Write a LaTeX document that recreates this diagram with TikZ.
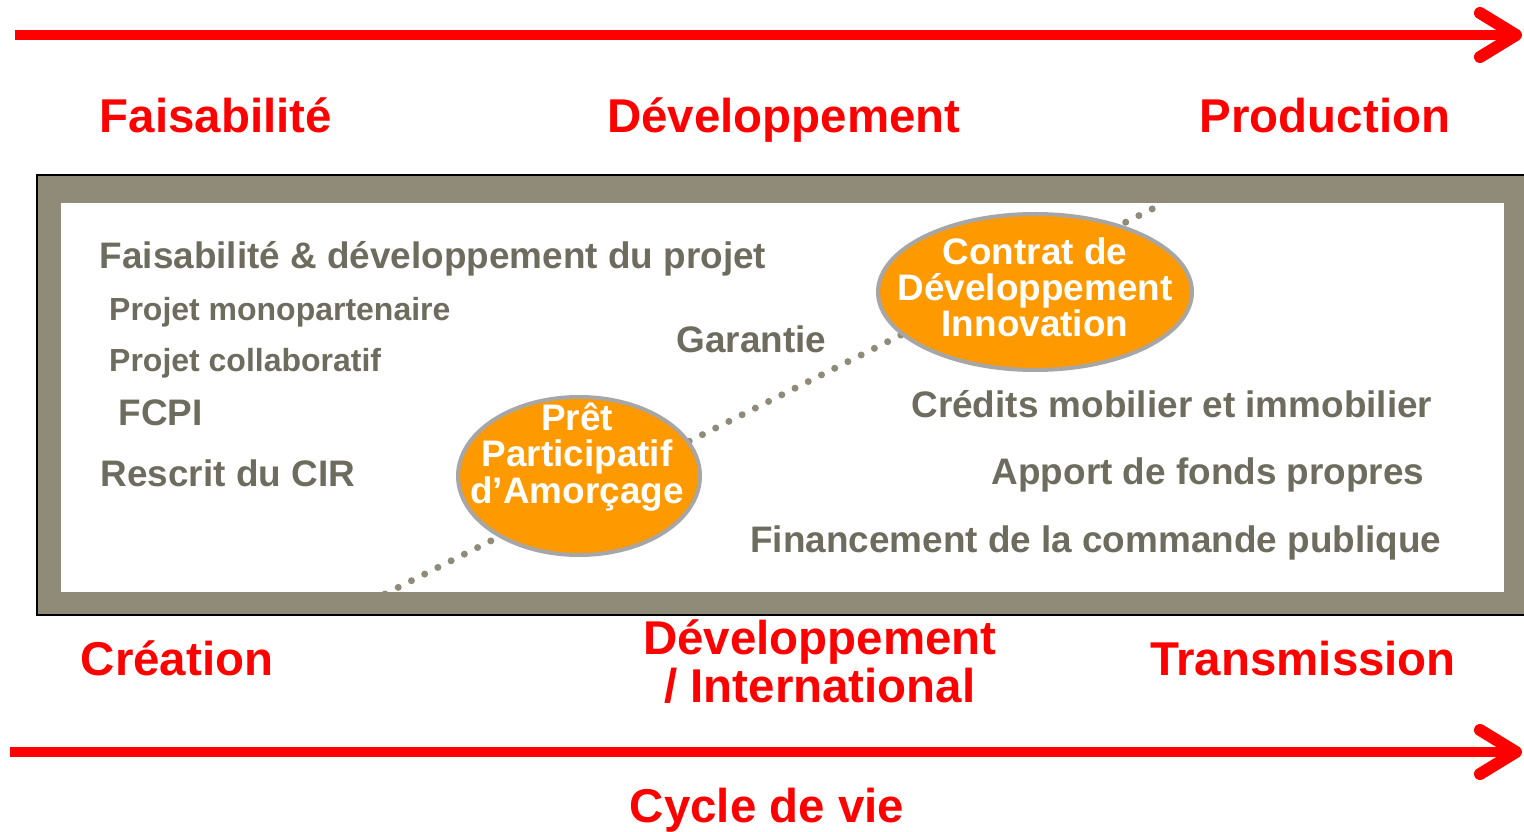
\documentclass[tikz,border=0pt]{standalone}
\usepackage{fontspec}
\setmainfont{Liberation Sans}
\usepackage{tikz}
\usetikzlibrary{arrows.meta,shapes.geometric}
\definecolor{cadre}{RGB}{143,139,120}
\definecolor{gristexte}{RGB}{110,108,94}
\definecolor{orangebulle}{RGB}{255,153,0}
\definecolor{bordbulle}{RGB}{166,166,166}

\begin{document}
\begin{tikzpicture}[
    phase/.style={red, font=\fontsize{13.5}{13.4}\selectfont\bfseries, inner sep=0pt, anchor=base, align=center},
    item/.style={gristexte, font=\fontsize{10.5}{10.5}\selectfont\bfseries, inner sep=0pt},
    smallitem/.style={gristexte, font=\fontsize{9.1}{9.1}\selectfont\bfseries, inner sep=0pt},
    bubble/.style={ellipse, draw=bordbulle, line width=0.04cm, fill=orangebulle, inner sep=0pt},
    bubbletext/.style={white, font=\fontsize{10.5}{10.3}\selectfont\bfseries, inner sep=0pt, anchor=base, align=center},
    timeline/.style={red, line width=0.10cm, -{Straight Barb[length=0.36cm, width=0.44cm, line width=0.12cm, round]}}]
      \useasboundingbox (0,0) rectangle (15.24,8.31);
      \coordinate (t1) at (0.15,7.96);
      \coordinate (t2) at (15.22,7.96);
      \coordinate (b1) at (0.10,0.79);
      \coordinate (b2) at (15.22,0.79);
      \draw[timeline] (t1) -- (t2);
      \draw[timeline] (b1) -- (b2);
      \node (fais) at (2.16,6.98) [phase] {Faisabilité};
      \node (dev) at (7.84,6.98) [phase] {Développement};
      \node (prod) at (13.25,6.98) [phase] {Production};
      \filldraw[fill=cadre, draw=black, line width=0.015cm] (0.37,2.16) rectangle (15.45,6.56);
      \fill[white] (0.61,2.39) rectangle (15.04,6.28);
      \coordinate (d1) at (3.85,2.37);
      \coordinate (d2) at (11.62,6.27);
      \draw[cadre, line width=0.07cm, line cap=round, dash pattern=on 0pt off 0.148cm] (d1) -- (d2);
      \node (ppa) at (5.79,3.55) [bubble, minimum width=2.42cm, minimum height=1.58cm] {};
      \node (ppa txt) at (5.77,3.28) [bubbletext] {Prêt\\Participatif\\d’Amorçage};
      \node (cdi) at (10.35,5.39) [bubble, minimum width=3.14cm, minimum height=1.56cm] {};
      \node (cdi txt) at (10.35,4.94) [bubbletext] {Contrat de\\Développement\\Innovation};
      \node (projet) at (0.99,5.62) [item, anchor=base west] {Faisabilité \& développement du projet};
      \node (mono) at (1.085,5.10) [smallitem, anchor=base west] {Projet monopartenaire};
      \node (collab) at (1.085,4.59) [smallitem, anchor=base west] {Projet collaboratif};
      \node (fcpi) at (1.18,4.05) [item, anchor=base west] {FCPI};
      \node (cir) at (1.00,3.45) [item, anchor=base west] {Rescrit du CIR};
      \node (gar) at (6.76,4.78) [item, anchor=base west] {Garantie};
      \node (cred) at (14.33,4.13) [item, anchor=base east] {Crédits mobilier et immobilier};
      \node (fonds) at (14.25,3.46) [item, anchor=base east] {Apport de fonds propres};
      \node (comm) at (14.42,2.79) [item, anchor=base east] {Financement de la commande publique};
      \node (crea) at (1.77,1.56) [phase] {Création};
      \node (inter) at (8.20,1.29) [phase] {Développement\\/ International};
      \node (trans) at (13.03,1.56) [phase] {Transmission};
      \node (cycle) at (7.67,0.09) [phase] {Cycle de vie};
    \end{tikzpicture}
\end{document}
